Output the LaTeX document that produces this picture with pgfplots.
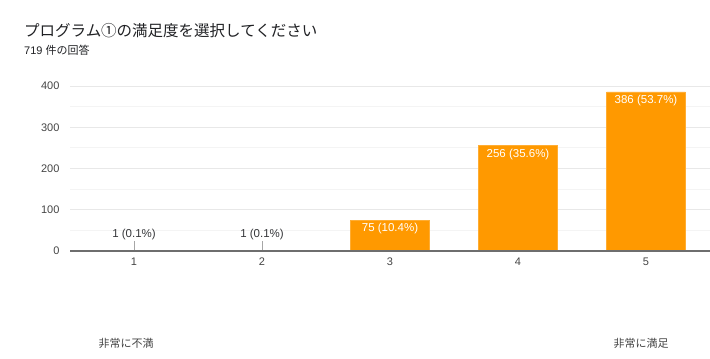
\documentclass[border=0pt]{standalone}
\usepackage{pgfplots}
\pgfplotsset{compat=1.18}
\usepackage{fontspec}
\setmainfont{Liberation Sans}
\newfontfamily\cjk{Noto Sans CJK JP}
\definecolor{barorange}{HTML}{FF9900}
\definecolor{titlecol}{HTML}{202124}
\definecolor{tickcol}{HTML}{444444}
\definecolor{majgrid}{HTML}{E8E8E8}
\definecolor{mingrid}{HTML}{F4F4F4}
\definecolor{baseaxis}{HTML}{6E6E6E}
\begin{document}
\begin{tikzpicture}
\path[use as bounding box] (0pt,0pt) rectangle (710pt,359pt);
\node[anchor=west,inner sep=0pt,text=titlecol,font=\cjk\fontsize{15.5}{18}\selectfont] at (24pt,328pt) {プログラム①の満足度を選択してください};
\node[anchor=west,inner sep=0pt,text=titlecol,font=\fontsize{11}{13}\selectfont] at (24pt,308.5pt) {719 {\cjk 件の回答}};
\node[inner sep=0pt,text=tickcol,font=\cjk\fontsize{11}{13}\selectfont] at (126pt,16pt) {非常に不満};
\node[inner sep=0pt,text=tickcol,font=\cjk\fontsize{11}{13}\selectfont] at (641pt,16pt) {非常に満足};
\begin{axis}[
  at={(70pt,108pt)}, anchor=south west,
  scale only axis, width=640pt, height=165pt,
  xmin=0.5, xmax=5.5, ymin=0, ymax=400,
  xtick={1,2,3,4,5}, ytick={0,100,200,300,400},
  minor y tick num=1,
  ymajorgrids, yminorgrids,
  major grid style={majgrid, line width=0.8pt},
  minor grid style={mingrid, line width=0.8pt},
  axis line style={draw=none},
  tick style={draw=none},
  /pgf/number format/assume math mode=true,
  ticklabel style={text=tickcol, font=\fontsize{11}{13}\selectfont},
  yticklabel style={xshift=-7pt},
  xticklabel style={yshift=-3pt},
  clip=false,
]
\addplot[ybar, bar width=0.615, fill=barorange, draw=barorange!80!white,
  point meta=explicit symbolic,
  nodes near coords,
  every node near coord/.append style={anchor=north, text=white, font=\fontsize{11.5}{13}\selectfont, yshift=0pt}]
  coordinates {(3,75) [75 (10.4\%)] (4,256) [256 (35.6\%)] (5,386) [386 (53.7\%)]};
\addplot[ybar, bar width=0.615, fill=barorange, draw=none,
  point meta=explicit symbolic,
  nodes near coords,
  every node near coord/.append style={anchor=south, text=titlecol!90, font=\fontsize{11.5}{13}\selectfont, yshift=7pt}]
  coordinates {(1,1) [1 (0.1\%)] (2,1) [1 (0.1\%)]};
\draw[gray!70, line width=0.8pt] (axis cs:1,0) -- ++(0pt,10pt);
\draw[gray!70, line width=0.8pt] (axis cs:2,0) -- ++(0pt,10pt);
\draw[draw=baseaxis, line width=1.3pt] (axis cs:0.5,0) -- (axis cs:5.5,0);
\end{axis}
\end{tikzpicture}
\end{document}
